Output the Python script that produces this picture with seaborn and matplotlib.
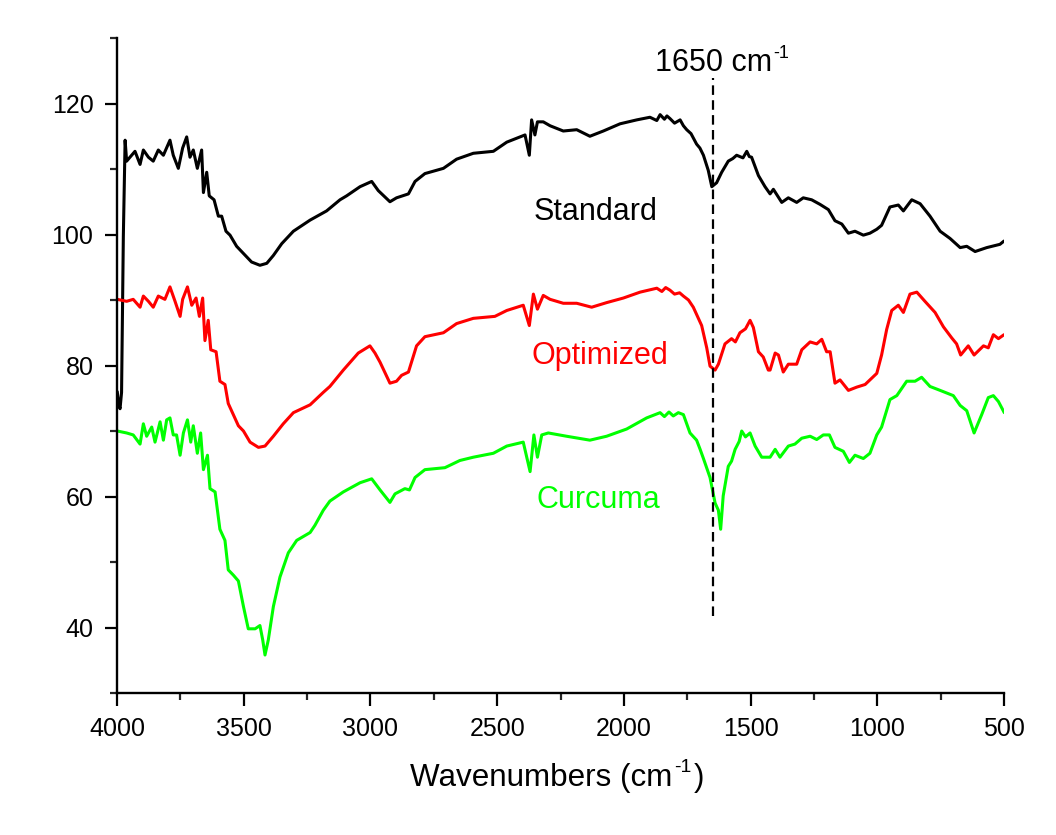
import matplotlib
matplotlib.use("Agg")
import matplotlib.pyplot as plt
import pandas as pd
import seaborn as sns
from matplotlib.ticker import MultipleLocator
from matplotlib.transforms import IdentityTransform

# ---- data (wavenumber cm-1, transmittance %) ----
std_wn = [3999, 3993, 3988, 3982, 3975, 3968, 3962, 3949, 3929, 3909, 3896, 3876, 3857, 3837,
          3817, 3791, 3778, 3758, 3741, 3725, 3712, 3699, 3683, 3666, 3659, 3646, 3636, 3617,
          3600, 3587, 3570, 3554, 3528, 3501, 3469, 3436, 3409, 3383, 3350, 3304, 3238, 3173,
          3120, 3094, 3041, 2995, 2969, 2923, 2897, 2850, 2824, 2785, 2712, 2660, 2594, 2515,
          2462, 2410, 2390, 2373, 2364, 2351, 2341, 2318, 2291, 2239, 2186, 2134, 2081, 2015,
          1949, 1897, 1870, 1857, 1840, 1830, 1818, 1800, 1778, 1765, 1752, 1735, 1713, 1700,
          1686, 1667, 1653, 1634, 1614, 1588, 1570, 1555, 1530, 1515, 1505, 1496, 1469, 1443,
          1423, 1410, 1377, 1351, 1318, 1292, 1259, 1226, 1193, 1167, 1140, 1114, 1088, 1055,
          1029, 1002, 983, 950, 917, 897, 864, 831, 792, 752, 713, 673, 647, 614, 568, 516, 500]
std_val = [76.0, 74.0, 73.4, 75.9, 99.7, 114.4, 111.2, 111.8, 112.7, 110.7, 112.9, 111.8, 111.2,
           112.9, 112.1, 114.4, 112.1, 110.1, 113.2, 114.9, 111.8, 112.9, 110.1, 112.9, 106.4,
           109.5, 105.9, 105.3, 102.8, 102.8, 100.5, 99.9, 98.2, 97.1, 95.8, 95.3, 95.6, 96.8,
           98.6, 100.5, 102.2, 103.6, 105.3, 105.9, 107.3, 108.1, 106.7, 105.0, 105.6, 106.2,
           108.1, 109.3, 110.1, 111.5, 112.4, 112.7, 114.1, 114.9, 115.2, 112.1, 117.5, 115.2,
           117.2, 117.2, 116.6, 115.8, 116.0, 115.0, 115.8, 116.9, 117.5, 117.9, 117.4, 118.3,
           117.6, 118.1, 117.7, 117.0, 117.5, 116.6, 116.0, 115.4, 113.8, 113.2, 112.1, 109.8,
           107.3, 107.9, 109.5, 111.2, 111.6, 112.1, 111.7, 112.7, 111.9, 111.8, 109.0, 107.3,
           106.2, 106.9, 104.9, 105.6, 104.9, 105.6, 105.3, 104.6, 103.8, 102.1, 101.6, 100.2,
           100.5, 99.9, 100.2, 100.8, 101.4, 104.2, 104.5, 103.6, 105.3, 104.7, 102.8, 100.5,
           99.4, 98.0, 98.2, 97.4, 98.0, 98.5, 99.0]

opt_wn = [3999, 3962, 3936, 3909, 3896, 3876, 3857, 3837, 3811, 3791, 3771, 3751, 3741, 3722,
          3705, 3688, 3675, 3662, 3653, 3640, 3630, 3609, 3594, 3574, 3561, 3541, 3521, 3501,
          3475, 3442, 3416, 3383, 3344, 3304, 3238, 3186, 3160, 3107, 3048, 3002, 2982, 2962,
          2923, 2897, 2877, 2850, 2818, 2785, 2712, 2660, 2594, 2509, 2462, 2397, 2373, 2357,
          2341, 2318, 2291, 2239, 2186, 2127, 2068, 2002, 1936, 1870, 1850, 1835, 1818, 1800,
          1780, 1765, 1745, 1726, 1693, 1673, 1660, 1640, 1627, 1601, 1575, 1560, 1542, 1520,
          1502, 1489, 1469, 1450, 1430, 1423, 1403, 1390, 1371, 1351, 1318, 1298, 1265, 1239,
          1219, 1200, 1186, 1167, 1147, 1114, 1081, 1048, 1002, 983, 963, 943, 917, 897, 871,
          844, 812, 772, 739, 706, 687, 671, 641, 618, 581, 562, 542, 522, 500]
opt_val = [90.1, 89.8, 90.1, 88.9, 90.6, 89.8, 88.9, 90.6, 90.1, 92.0, 89.8, 87.5, 90.1, 92.0,
           89.2, 90.3, 87.5, 90.3, 83.8, 86.9, 82.4, 82.1, 77.6, 77.1, 74.2, 72.5, 70.8, 70.0,
           68.3, 67.5, 67.7, 69.2, 71.1, 72.8, 74.0, 75.9, 76.8, 79.3, 81.9, 83.0, 81.9, 80.5,
           77.3, 77.6, 78.5, 79.0, 83.0, 84.4, 85.0, 86.4, 87.2, 87.5, 88.4, 89.2, 86.1, 90.9,
           88.6, 90.7, 90.1, 89.5, 89.5, 88.9, 89.6, 90.3, 91.2, 91.8, 91.3, 91.9, 91.5, 90.9,
           91.1, 90.6, 90.0, 88.9, 86.1, 82.7, 79.9, 79.3, 80.2, 83.3, 84.1, 83.6, 85.0, 85.6,
           86.9, 85.8, 82.1, 81.3, 79.3, 79.3, 81.9, 81.6, 79.0, 80.2, 80.2, 82.4, 83.6, 83.3,
           84.0, 82.1, 82.1, 77.3, 77.8, 76.2, 76.7, 77.1, 78.8, 81.6, 85.5, 88.4, 89.2, 88.1,
           90.9, 91.2, 89.8, 88.1, 85.9, 84.2, 83.3, 81.6, 83.0, 81.6, 83.0, 82.7, 84.7, 84.1,
           84.7]

cur_wn = [3999, 3962, 3936, 3909, 3896, 3883, 3863, 3850, 3830, 3817, 3804, 3791, 3778, 3765,
          3751, 3738, 3722, 3709, 3699, 3683, 3670, 3659, 3643, 3633, 3613, 3594, 3574, 3561,
          3541, 3521, 3501, 3482, 3455, 3436, 3425, 3416, 3403, 3383, 3357, 3324, 3291, 3238,
          3219, 3186, 3160, 3107, 3041, 2995, 2962, 2923, 2903, 2864, 2846, 2824, 2785, 2706,
          2647, 2594, 2515, 2462, 2397, 2370, 2355, 2341, 2324, 2298, 2226, 2134, 2068, 1989,
          1910, 1857, 1840, 1822, 1805, 1785, 1765, 1739, 1713, 1700, 1686, 1660, 1640, 1627,
          1618, 1608, 1588, 1575, 1561, 1545, 1535, 1520, 1502, 1482, 1456, 1423, 1403, 1384,
          1351, 1325, 1298, 1265, 1239, 1213, 1189, 1167, 1134, 1110, 1088, 1055, 1029, 1002,
          983, 950, 923, 884, 851, 825, 792, 752, 700, 673, 647, 618, 588, 562, 542, 522, 499]
cur_val = [70.0, 69.7, 69.4, 68.0, 71.1, 69.2, 70.6, 68.3, 71.4, 68.6, 71.7, 72.0, 69.4, 69.4,
           66.3, 69.7, 71.7, 68.3, 70.8, 66.6, 69.7, 64.1, 66.3, 61.2, 60.7, 55.0, 53.3, 48.8,
           48.0, 47.1, 43.2, 39.8, 39.8, 40.3, 38.1, 35.8, 38.1, 43.2, 47.7, 51.4, 53.3, 54.5,
           55.6, 57.9, 59.3, 60.7, 62.1, 62.7, 61.0, 59.1, 60.4, 61.2, 61.0, 62.9, 64.1, 64.4,
           65.5, 66.0, 66.6, 67.7, 68.3, 63.8, 69.4, 66.0, 69.4, 69.7, 69.2, 68.6, 69.2, 70.3,
           72.0, 72.8, 72.2, 72.9, 72.3, 72.8, 72.5, 69.7, 68.6, 67.3, 65.8, 62.9, 59.0, 57.9,
           55.0, 60.1, 64.6, 65.4, 67.2, 68.4, 70.0, 69.1, 69.7, 67.7, 66.0, 66.0, 67.2, 66.0,
           67.7, 68.0, 68.9, 69.2, 68.7, 69.4, 69.4, 67.5, 66.9, 65.2, 66.3, 65.8, 66.6, 69.4,
           70.6, 74.8, 75.4, 77.6, 77.6, 78.2, 76.8, 76.2, 75.4, 73.9, 73.1, 69.7, 72.5, 75.1,
           75.4, 74.5, 72.8]

series_names = ["Standard", "Optimized", "Curcuma"]
series_colors = ["#000000", "#ff0000", "#00ff00"]
label_wn = [2110, 2095, 2100]
label_val = [103.4, 81.5, 59.4]
marker_wn = 1650
marker_span = [41.8, 123.9]
marker_text_pos = (1877, 124.96)
marker_text = ("1650 cm", "-1", "")
xlabel_text = ("Wavenumbers (cm", "-1", ")")

# ---- build a long table ----
frames = []
for name, wn, val in zip(series_names, [std_wn, opt_wn, cur_wn], [std_val, opt_val, cur_val]):
    frames.append(pd.DataFrame({"wn": wn, "val": val, "sample": name}))
df = pd.concat(frames, ignore_index=True)

sns.set_theme(style="ticks")
plt.rcParams["font.family"] = ["Liberation Sans", "DejaVu Sans"]

fig = plt.figure(figsize=(10.56, 8.35), dpi=100)
fig.patch.set_facecolor("white")
ax = fig.add_axes([117 / 1056, 1 - 693 / 835, 887 / 1056, 655 / 835])
ax.set_facecolor("white")

sns.lineplot(data=df, x="wn", y="val", hue="sample", hue_order=series_names,
             palette=dict(zip(series_names, series_colors)), sort=False, estimator=None,
             linewidth=2.2, legend=False, ax=ax)

ax.set_xlim(4000, 500)
ax.set_ylim(30, 130)
ax.xaxis.set_major_locator(MultipleLocator(500))
ax.xaxis.set_minor_locator(MultipleLocator(250))
ax.yaxis.set_major_locator(MultipleLocator(20))
ax.yaxis.set_minor_locator(MultipleLocator(10))
ax.tick_params(which="major", direction="out", length=9, width=1.6, labelsize=18, pad=8,
               colors="black")
ax.tick_params(which="minor", direction="out", length=5, width=1.6)
for s in ["top", "right"]:
    ax.spines[s].set_visible(False)
for s in ["left", "bottom"]:
    ax.spines[s].set_linewidth(1.7)
    ax.spines[s].set_color("black")
ax.set_xlabel("")
ax.set_ylabel("")

# dashed marker line
ax.plot([marker_wn, marker_wn], marker_span, color="black", lw=1.6,
        linestyle=(0, (4.3, 2.4)))

for name, c, lx, ly in zip(series_names, series_colors, label_wn, label_val):
    ax.text(lx, ly, name, ha="center", va="center", fontsize=22, color=c)

renderer = fig.canvas.get_renderer()


def text_with_sup(x_px, base_px, parts, fs=22, sup_fs=13, rise_px=13, gap=1):
    base, sup, tail = parts
    kw = dict(transform=IdentityTransform(), ha="left", va="baseline", color="black")
    t1 = fig.text(x_px, base_px, base, fontsize=fs, **kw)
    x2 = t1.get_window_extent(renderer).x1
    t2 = fig.text(x2 + gap, base_px + rise_px, sup, fontsize=sup_fs, **kw)
    if tail:
        x3 = t2.get_window_extent(renderer).x1
        fig.text(x3 + gap, base_px, tail, fontsize=fs, **kw)


mx, my = ax.transData.transform(marker_text_pos)
text_with_sup(mx, my, marker_text)
text_with_sup(410, 835 - 786, xlabel_text, fs=22.6, sup_fs=14, rise_px=14, gap=2)

fig.savefig("out.png", dpi=100, facecolor="white")
